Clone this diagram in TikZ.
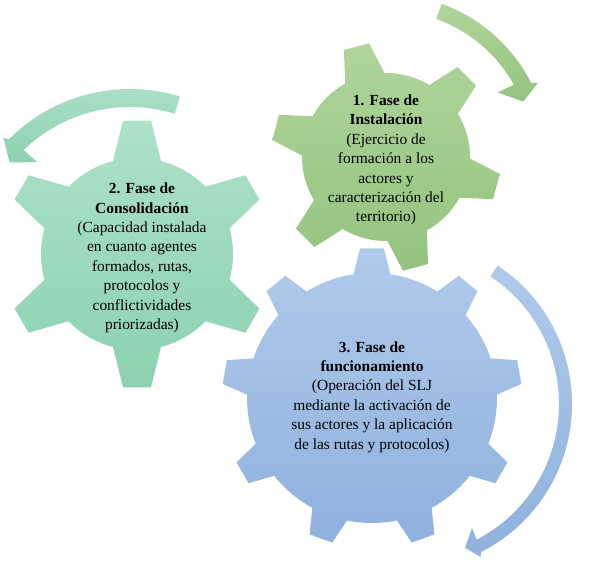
\documentclass[tikz,border=0pt]{standalone}
\usepackage{fontspec}
\setmainfont{Liberation Serif}

\definecolor{greenlight}{HTML}{B0D59B}
\definecolor{greendark}{HTML}{93C37E}
\definecolor{teallight}{HTML}{ADE1C9}
\definecolor{tealdark}{HTML}{8CD2AF}
\definecolor{bluelight}{HTML}{B0CAEB}
\definecolor{bluedark}{HTML}{8FB1DD}

\tikzset{
  gear green/.style={top color=greenlight, bottom color=greendark},
  gear teal/.style={top color=teallight, bottom color=tealdark},
  gear blue/.style={top color=bluelight, bottom color=bluedark},
  fase text/.style={align=center, text=black,
    font=\fontsize{15.5}{19.5}\selectfont}
}

% #1 style, #2 centre, #3 teeth, #4 last index, #5 first angle,
% #6 tip radius, #7 body radius, #8 tip half angle, #9 base half angle
\newcommand{\gearshape}[9]{%
  \path[#1, shift={#2}] ({#5-#9}:#7)
    \foreach \k [evaluate=\k as \c using #5+360/#3*\k] in {0,...,#4} {
      -- ({\c-#9}:#7) -- ({\c-#8}:#6) -- ({\c+#8}:#6) -- ({\c+#9}:#7)
      arc[start angle={\c+#9}, end angle={\c+360/#3-#9}, radius=#7]
    } -- cycle;
}

\begin{document}
\begin{tikzpicture}[x=1bp, y=1bp]
  \fill[white] (0,0) rectangle (591,567);
  \useasboundingbox (0,0) rectangle (591,567);

  \coordinate (g1) at (386,410);
  \coordinate (g2) at (137,313);
  \coordinate (g3) at (372,169);

  % gears: 6, 6 and 9 teeth
  \gearshape{gear green}{(g1)}{6}{5}{45}{115}{84}{6.5}{14}
  \gearshape{gear teal}{(g2)}{6}{5}{90}{134}{96}{6}{14.5}
  \gearshape{gear blue}{(g3)}{9}{8}{10}{150}{125}{4.6}{8.5}

  % curved arrows
  \path[gear green, shift={(g1)}] (70:163) arc[start angle=70, end angle=27, radius=163]
    -- (26:169) -- (22:148) -- (30:129) -- (29.5:147)
    arc[start angle=29.5, end angle=70, radius=147] -- cycle;
  \path[gear teal, shift={(130,307)}] (73:153) arc[start angle=73, end angle=134, radius=153]
    -- (133.5:135) -- (141:155) -- (136:176) -- (135:171)
    arc[start angle=135, end angle=73, radius=171] -- cycle;
  \path[gear blue, shift={(406,163)}] (56.5:166) arc[start angle=56.5, end angle=-63, radius=166]
    -- (-64:170) -- (-67.7:155.5) -- (-62:140.5) -- (-62.5:153)
    arc[start angle=-62.5, end angle=56.5, radius=153] -- cycle;

  \node[fase text] (fase1) at ([yshift=-3]g1) {\textbf{1. Fase de}\\\textbf{Instalación}\\(Ejercicio de\\formación a los\\actores y\\caracterización del\\territorio)};
  \node[fase text] (fase2) at ([xshift=5, yshift=-4]g2) {\textbf{2. Fase de}\\\textbf{Consolidación}\\(Capacidad instalada\\en cuanto agentes\\formados, rutas,\\protocolos y\\conflictividades\\priorizadas)};
  \node[fase text] (fase3) at ([yshift=1]g3) {\textbf{3. Fase de}\\\textbf{funcionamiento}\\(Operación del SLJ\\mediante la activación de\\sus actores y la aplicación\\de las rutas y protocolos)};
\end{tikzpicture}
\end{document}
